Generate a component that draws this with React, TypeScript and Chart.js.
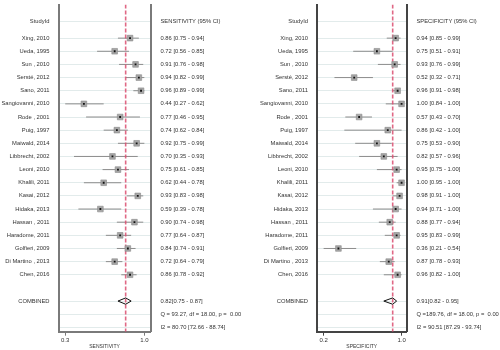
import React, { useEffect, useRef } from "react";
import { Chart, registerables } from "chart.js";

Chart.register(...registerables);

const studies = [
  "Xing, 2010", "Ueda, 1995", "Sun , 2010", "Sersté, 2012", "Sano, 2011",
  "Sangiovanni, 2010", "Rode , 2001", "Puig, 1997", "Maiwald, 2014", "Libbrecht, 2002",
  "Leoni, 2010", "Khalili, 2011", "Kasai, 2012", "Hidaka, 2013", "Hassan , 2011",
  "Haradome, 2011", "Golfieri, 2009", "Di Martino , 2013", "Chen, 2016",
];

const sensPoint = [0.86, 0.72, 0.91, 0.94, 0.96, 0.44, 0.77, 0.74, 0.92, 0.70, 0.75, 0.62, 0.93, 0.59, 0.90, 0.77, 0.84, 0.72, 0.86];
const sensLow = [0.75, 0.56, 0.76, 0.82, 0.89, 0.27, 0.46, 0.62, 0.75, 0.35, 0.61, 0.44, 0.83, 0.39, 0.74, 0.64, 0.74, 0.64, 0.78];
const sensHigh = [0.94, 0.85, 0.98, 0.99, 0.99, 0.62, 0.95, 0.84, 0.99, 0.93, 0.85, 0.78, 0.98, 0.78, 0.98, 0.87, 0.91, 0.79, 0.92];
const sensCombined = [0.82, 0.75, 0.87];
const sensStats = ["Q = 93.27, df = 18.00, p =  0.00", "I2 = 80.70 [72.66 - 88.74]"];
const sensTickValues = [0.27, 0.99];
const sensTickLabels = ["0.3", "1.0"];

const specPoint = [0.94, 0.75, 0.93, 0.52, 0.96, 1.00, 0.57, 0.86, 0.75, 0.82, 0.95, 1.00, 0.98, 0.94, 0.88, 0.95, 0.36, 0.87, 0.96];
const specLow = [0.85, 0.51, 0.76, 0.32, 0.91, 0.84, 0.43, 0.42, 0.53, 0.57, 0.75, 0.95, 0.91, 0.71, 0.77, 0.83, 0.21, 0.78, 0.82];
const specHigh = [0.99, 0.91, 0.99, 0.71, 0.98, 1.00, 0.70, 1.00, 0.90, 0.96, 1.00, 1.00, 1.00, 1.00, 0.94, 0.99, 0.54, 0.93, 1.00];
const specCombined = [0.91, 0.82, 0.95];
const specStats = ["Q =189.76, df = 18.00, p =  0.00", "I2 = 90.51 [87.29 - 93.74]"];
const specTickValues = [0.21, 1.0];
const specTickLabels = ["0.2", "1.0"];

const FONT = "'Liberation Sans', Arial, sans-serif";
const TEXT = "#333333";

type Panel = {
  title: string;
  header: string;
  point: number[];
  low: number[];
  high: number[];
  combined: number[];
  stats: string[];
  tickValues: number[];
  tickLabels: string[];
  xMin: number;
  xMax: number;
  leftW: number;
  rightW: number;
  frame: string;
};

const f2 = (v: number) => v.toFixed(2);

function buildConfig(p: Panel): any {
  const yMin = -2.55;
  const yMax = 22.33;
  const headerY = -1.3;
  const combY = 20;
  const rows = p.point.map((_, i) => i);
  const tickYs = [headerY, ...rows, combY, combY + 1, combY + 2];
  const leftLabels = ["StudyId", ...studies, "COMBINED", "", ""];
  const rightLabels = [
    p.header,
    ...p.point.map((v, i) => `${f2(v)} [${f2(p.low[i])} - ${f2(p.high[i])}]`),
    `${f2(p.combined[0])}[${f2(p.combined[1])} - ${f2(p.combined[2])}]`,
    p.stats[0],
    p.stats[1],
  ];

  const ciSets = rows.map((i) => ({
    data: [{ x: p.low[i], y: i }, { x: p.high[i], y: i }],
    showLine: true,
    borderColor: "#8c8c8c",
    borderWidth: 1,
    pointRadius: 0,
    order: 5,
  }));

  const [cp, cl, ch] = p.combined;
  const datasets: any[] = [
    ...ciSets,
    {
      data: [{ x: cp, y: yMin }, { x: cp, y: yMax }],
      showLine: true,
      borderColor: "rgba(218,78,112,0.85)",
      borderWidth: 1.6,
      borderDash: [4, 2],
      pointRadius: 0,
      order: 3,
    },
    {
      data: rows.map((i) => ({ x: p.point[i], y: i })),
      pointStyle: "rect",
      pointRadius: 4,
      backgroundColor: "#a6a6a6",
      borderColor: "#8a8a8a",
      borderWidth: 0.6,
      order: 2,
    },
    {
      data: rows.map((i) => ({ x: p.point[i], y: i })),
      pointStyle: "rect",
      pointRadius: 1.3,
      backgroundColor: "#111111",
      borderWidth: 0,
      order: 1,
    },
    {
      data: [
        { x: cl, y: combY },
        { x: cp, y: combY - 0.24 },
        { x: ch, y: combY },
        { x: cp, y: combY + 0.24 },
        { x: cl, y: combY },
      ],
      showLine: true,
      borderColor: "#111111",
      borderWidth: 1,
      pointRadius: 0,
      fill: false,
      order: 0,
    },
  ];

  const yCommon = {
    type: "linear",
    reverse: true,
    min: yMin,
    max: yMax,
    afterBuildTicks: (s: any) => {
      s.ticks = tickYs.map((v) => ({ value: v }));
    },
  };

  return {
    type: "scatter",
    data: { datasets },
    options: {
      animation: false,
      responsive: false,
      events: [],
      layout: { padding: 0 },
      plugins: { legend: { display: false }, tooltip: { enabled: false } },
      scales: {
        x: {
          type: "linear",
          min: p.xMin,
          max: p.xMax,
          afterBuildTicks: (s: any) => {
            s.ticks = p.tickValues.map((v) => ({ value: v }));
          },
          ticks: {
            callback: (_v: any, idx: number) => p.tickLabels[idx],
            font: { family: FONT, size: 6 },
            color: TEXT,
            padding: 1,
            maxRotation: 0,
          },
          grid: { drawOnChartArea: false, drawTicks: true, tickLength: 4, color: p.frame, lineWidth: 1 },
          border: { display: true, color: p.frame, width: 2 },
          title: {
            display: true,
            text: p.title,
            font: { family: FONT, size: 5 },
            color: TEXT,
            padding: 0,
          },
          afterFit: (s: any) => {
            s.height = 18.3;
            s.paddingLeft = 0;
            s.paddingRight = 0;
          },
        },
        y: {
          ...yCommon,
          position: "left",
          ticks: {
            callback: (_v: any, idx: number) => leftLabels[idx],
            font: { family: FONT, size: 5.8 },
            color: TEXT,
            padding: 9,
            autoSkip: false,
          },
          grid: { color: "#e2ebeb", lineWidth: 1, drawTicks: false },
          border: { display: true, color: p.frame, width: 2 },
          afterFit: (s: any) => {
            s.width = p.leftW;
            s.paddingTop = 0;
            s.paddingBottom = 0;
          },
        },
        y2: {
          ...yCommon,
          position: "right",
          ticks: {
            callback: (_v: any, idx: number) => rightLabels[idx],
            font: { family: FONT, size: 5.8 },
            color: TEXT,
            padding: 10,
            autoSkip: false,
          },
          grid: { drawOnChartArea: false, drawTicks: false },
          border: { display: true, color: p.frame, width: 2 },
          afterFit: (s: any) => {
            s.width = p.rightW;
            s.paddingTop = 0;
            s.paddingBottom = 0;
          },
        },
      },
    },
  };
}

const sensPanel: Panel = {
  title: "SENSITIVITY",
  header: "SENSITIVITY (95% CI)",
  point: sensPoint,
  low: sensLow,
  high: sensHigh,
  combined: sensCombined,
  stats: sensStats,
  tickValues: sensTickValues,
  tickLabels: sensTickLabels,
  xMin: 0.209,
  xMax: 1.046,
  leftW: 58.5,
  rightW: 99.5,
  frame: "#7a7a7a",
};

const specPanel: Panel = {
  title: "SPECIFICITY",
  header: "SPECIFICITY (95% CI)",
  point: specPoint,
  low: specLow,
  high: specHigh,
  combined: specCombined,
  stats: specStats,
  tickValues: specTickValues,
  tickLabels: specTickLabels,
  xMin: 0.143,
  xMax: 1.05,
  leftW: 67,
  rightW: 93.5,
  frame: "#444444",
};

function ForestPanel({ panel }: { panel: Panel }) {
  const ref = useRef<HTMLCanvasElement | null>(null);
  useEffect(() => {
    if (!ref.current) return;
    const chart = new Chart(ref.current, buildConfig(panel));
    return () => chart.destroy();
  }, [panel]);
  return <canvas ref={ref} width={250} height={350} style={{ display: "block", width: 250, height: 350 }} />;
}

export default function App() {
  return (
    <div
      style={{
        position: "absolute",
        left: 0,
        top: 0,
        width: 500,
        height: 350,
        display: "flex",
        background: "#ffffff",
      }}
    >
      <ForestPanel panel={sensPanel} />
      <ForestPanel panel={specPanel} />
    </div>
  );
}
